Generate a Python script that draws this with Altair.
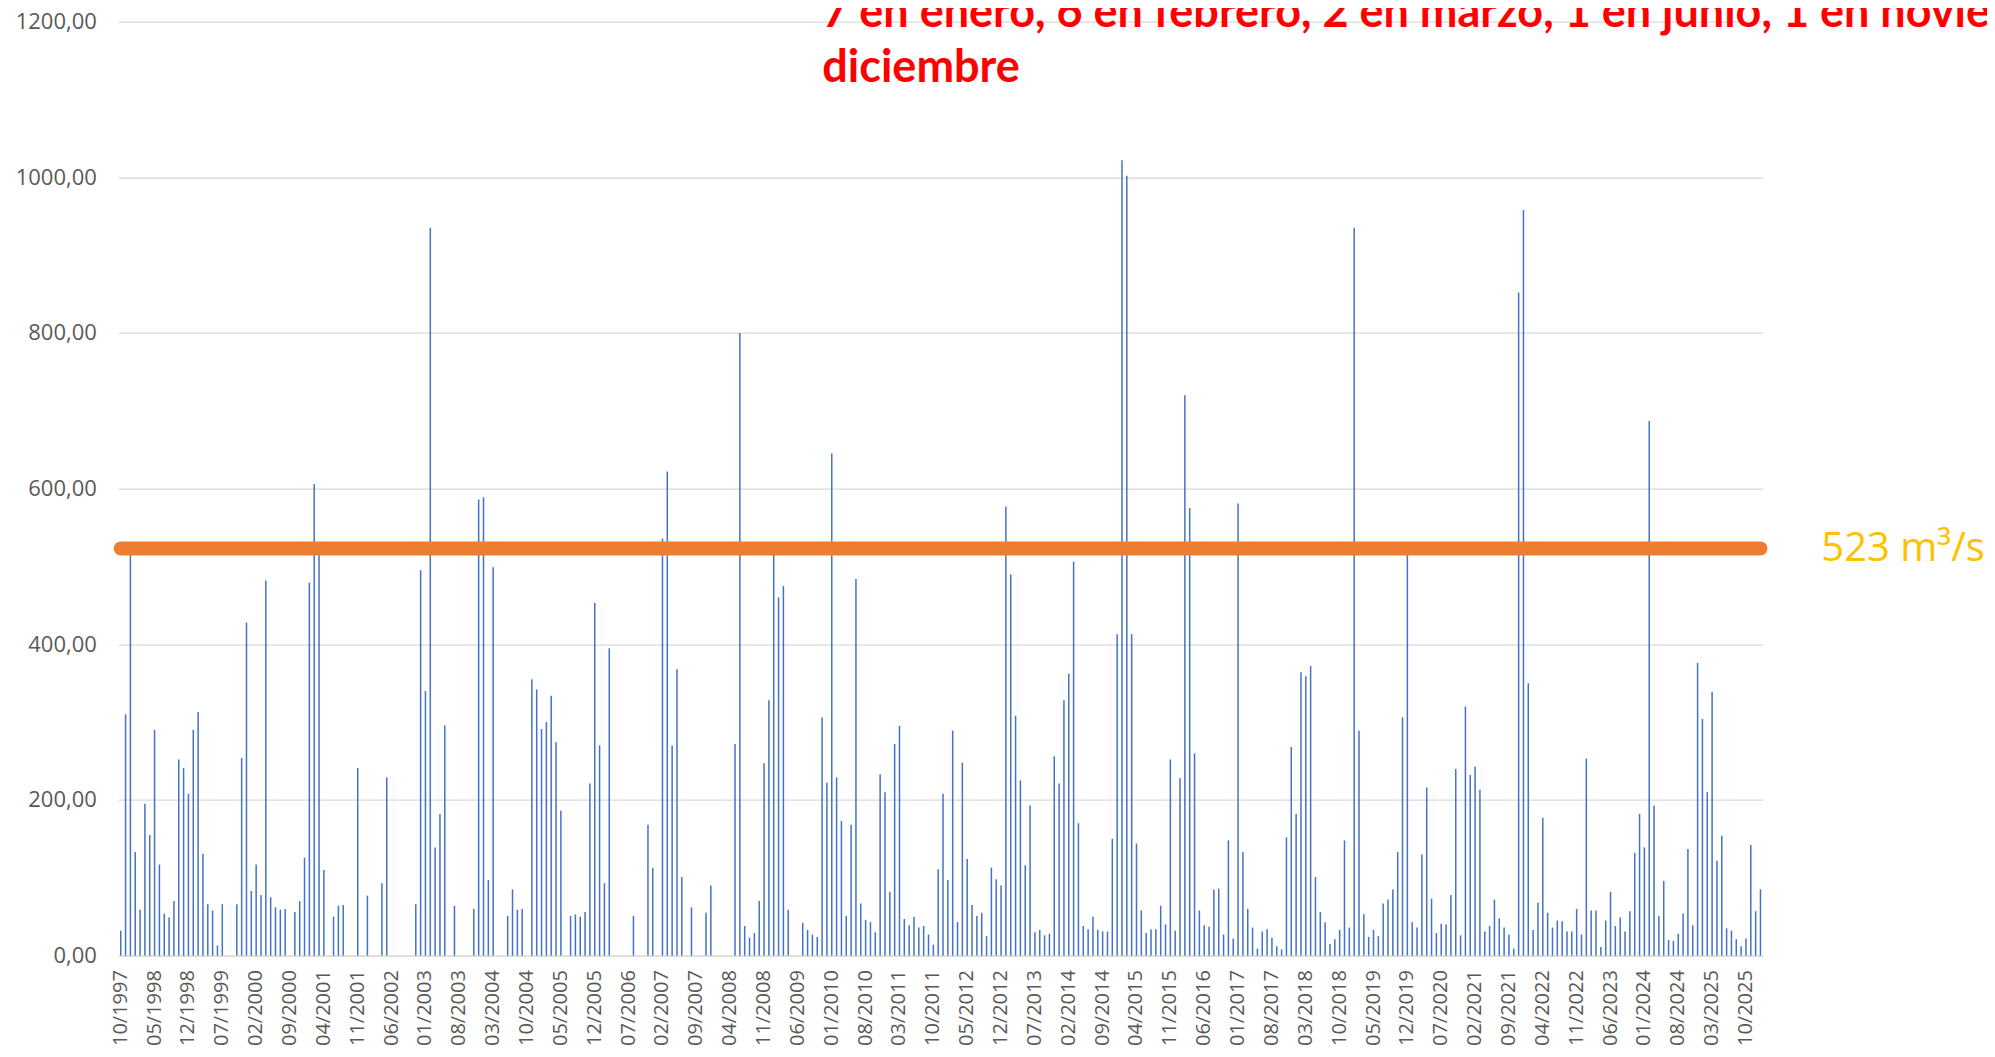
import altair as alt
import pandas as pd

# Monthly flow values (m3/s), one list per calendar year, starting 10/1997
v1997 = [32, 310, 518]
v1998 = [133, 59, 195, 155, 290, 117, 54, 49, 70, 252, 241, 208]
v1999 = [290, 313, 131, 66, 58, 13, 66, 0, 0, 66, 254, 428]
v2000 = [83, 117, 78, 482, 75, 62, 59, 60, 0, 56, 70, 126]
v2001 = [479, 606, 518, 110, 0, 50, 64, 65, 0, 0, 241, 0]
v2002 = [77, 0, 0, 93, 229, 0, 0, 0, 0, 0, 66, 495]
v2003 = [340, 935, 139, 182, 296, 0, 64, 0, 0, 0, 60, 586]
v2004 = [589, 97, 499, 0, 0, 51, 85, 59, 60, 0, 355, 342]
v2005 = [291, 300, 334, 274, 186, 0, 51, 53, 50, 56, 221, 453]
v2006 = [270, 93, 395, 0, 0, 0, 0, 51, 0, 0, 168, 113]
v2007 = [0, 536, 622, 270, 368, 101, 0, 62, 0, 0, 55, 90]
v2008 = [0, 0, 0, 0, 272, 800, 38, 23, 29, 70, 247, 328]
v2009 = [526, 460, 475, 59, 0, 0, 42, 33, 27, 24, 306, 222]
v2010 = [645, 229, 173, 51, 168, 484, 67, 46, 43, 30, 233, 210]
v2011 = [82, 272, 295, 47, 39, 50, 36, 38, 27, 14, 111, 208]
v2012 = [97, 289, 43, 248, 124, 65, 51, 55, 25, 113, 98, 90]
v2013 = [577, 490, 308, 225, 116, 193, 30, 33, 26, 28, 256, 221]
v2014 = [328, 362, 506, 170, 38, 34, 50, 33, 31, 31, 150, 413]
v2015 = [1022, 1002, 413, 144, 58, 29, 34, 34, 64, 40, 252, 32]
v2016 = [228, 720, 575, 260, 58, 39, 37, 85, 86, 27, 148, 22]
v2017 = [581, 133, 60, 36, 9, 31, 34, 23, 12, 8, 152, 268]
v2018 = [182, 364, 359, 372, 101, 56, 43, 15, 21, 33, 148, 36]
v2019 = [935, 289, 53, 24, 33, 25, 67, 72, 85, 133, 306, 516]
v2020 = [43, 36, 130, 216, 73, 29, 41, 40, 78, 240, 26, 320]
v2021 = [232, 243, 213, 31, 38, 72, 48, 36, 27, 9, 852, 958]
v2022 = [350, 33, 68, 177, 55, 36, 45, 44, 31, 31, 60, 27]
v2023 = [253, 58, 58, 11, 45, 82, 38, 49, 31, 57, 132, 182]
v2024 = [139, 687, 193, 51, 96, 20, 19, 28, 54, 137, 39, 376]
v2025 = [304, 210, 339, 122, 154, 35, 32, 21, 12, 22, 142, 57]
v2026 = [85]

threshold = 523
threshold_label = "523 m³/s"
title_line1 = "7 en enero, 6 en febrero, 2 en marzo, 1 en junio, 1 en noviembre y 2 en"
title_line2 = "diciembre"
y_ticks = [0, 200, 400, 600, 800, 1000, 1200]

values = (v1997 + v1998 + v1999 + v2000 + v2001 + v2002 + v2003 + v2004 + v2005
          + v2006 + v2007 + v2008 + v2009 + v2010 + v2011 + v2012 + v2013 + v2014
          + v2015 + v2016 + v2017 + v2018 + v2019 + v2020 + v2021 + v2022 + v2023
          + v2024 + v2025 + v2026)

start_year, start_month = 1997, 10
months = []
for i in range(len(values)):
    k = start_month - 1 + i
    months.append(f"{k % 12 + 1:02d}/{start_year + k // 12}")
tick_labels = months[::7]

df = pd.DataFrame({"mes": months, "caudal": values, "umbral": [threshold] * len(values)})

W = 1644.6
H = 934

x_enc = alt.X(
    "mes:N",
    sort=months,
    scale=alt.Scale(paddingInner=0, paddingOuter=0),
    axis=alt.Axis(
        values=tick_labels,
        labelAngle=270,
        ticks=False,
        domainColor="#D9D9D9",
        domainWidth=1.3,
        labelFont="Open Sans",
        labelFontSize=20,
        labelColor="#595959",
        labelPadding=14,
        labelOverlap=False,
        title=None,
    ),
)

bars = alt.Chart(df).mark_bar(color="#4472C4", width=1.5).encode(
    x=x_enc,
    y=alt.Y(
        "caudal:Q",
        scale=alt.Scale(domain=[0, 1200], nice=False),
        axis=alt.Axis(
            values=y_ticks,
            labelExpr="replace(format(datum.value, '.2f'), '.', ',')",
            domain=False,
            ticks=False,
            gridColor="#D9D9D9",
            gridWidth=1.3,
            labelFont="Open Sans",
            labelFontSize=22,
            labelColor="#595959",
            labelPadding=22,
            title=None,
        ),
    ),
)

line = alt.Chart(df).mark_line(color="#ED7D31", strokeWidth=14, strokeCap="round").encode(
    x=alt.X("mes:N", sort=months),
    y=alt.Y("umbral:Q"),
)

lbl = alt.Chart(pd.DataFrame({"t": [threshold_label]})).mark_text(
    font="Open Sans", fontSize=40, color="#FFC000", align="left", baseline="middle"
).encode(text="t:N", x=alt.value(1703), y=alt.value(527))

t1 = alt.Chart(pd.DataFrame({"t": [title_line1]})).mark_text(
    font="Lato", fontSize=45, fontWeight="bold", color="#FF0000", align="left", baseline="alphabetic"
).encode(text="t:N", x=alt.value(704), y=alt.value(5.5))

t2 = alt.Chart(pd.DataFrame({"t": [title_line2]})).mark_text(
    font="Lato", fontSize=45, fontWeight="bold", color="#FF0000", align="left", baseline="alphabetic"
).encode(text="t:N", x=alt.value(704), y=alt.value(60))

chart = alt.layer(bars, line, lbl, t1, t2).properties(
    width=W,
    height=H,
    padding={"left": 110.3, "top": 13.6, "right": 224, "bottom": 93},
    autosize=alt.AutoSizeParams(type="none"),
    background="white",
).configure_view(stroke=None)

chart.save("out.html", embed_options={"renderer": "svg", "actions": False})
